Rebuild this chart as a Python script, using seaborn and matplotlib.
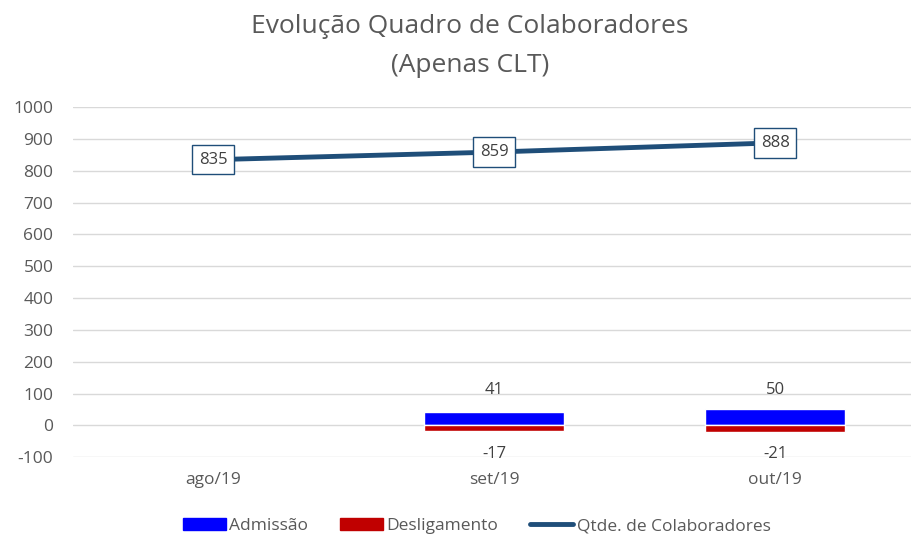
import numpy as np
import pandas as pd
import matplotlib
matplotlib.use('Agg')
import matplotlib.pyplot as plt
import seaborn as sns
from matplotlib.patches import Patch
from matplotlib.lines import Line2D

meses = ['ago/19', 'set/19', 'out/19']
admissao = [np.nan, 41, 50]
desligamento = [np.nan, -17, -21]
qtde = [835, 859, 888]

cor_adm = '#0000FF'
cor_des = '#C00000'
cor_qtd = '#1F4E79'
cinza = '#595959'

sns.set_style('white')
plt.rcParams['font.family'] = ['Open Sans', 'DejaVu Sans']
plt.rcParams['axes.unicode_minus'] = False

fig = plt.figure(figsize=(9.11, 5.36), dpi=100)
ax = fig.add_axes([0.080, 0.147, 0.925, 0.653])

df = pd.DataFrame({'mes': meses, 'adm': admissao, 'des': desligamento, 'qtd': qtde})

sns.barplot(data=df, x='mes', y='adm', color=cor_adm, width=0.5, saturation=1, ax=ax)
sns.barplot(data=df, x='mes', y='des', color=cor_des, width=0.5, saturation=1, ax=ax)
sns.pointplot(data=df, x='mes', y='qtd', color=cor_qtd, markers='', linewidth=3.5, ax=ax)

for i in range(len(meses)):
    ax.text(i, qtde[i], str(qtde[i]), ha='center', va='center', fontsize=12, color='#404040',
            bbox=dict(boxstyle='square,pad=0.4', fc='white', ec=cor_qtd, lw=1))
    if not np.isnan(admissao[i]):
        ax.text(i, 110, str(int(admissao[i])), ha='center', va='center', fontsize=12, color='#404040')
    if not np.isnan(desligamento[i]):
        ax.text(i, -90, str(int(desligamento[i])), ha='center', va='center', fontsize=12, color='#404040')

ax.set_ylim(-100, 1000)
ax.set_yticks(range(-100, 1001, 100))
ax.set_xlim(-0.5, 2.5)
ax.grid(axis='y', color='#D9D9D9', lw=1)
ax.set_axisbelow(True)
sns.despine(ax=ax, left=True, bottom=True)
ax.tick_params(axis='both', length=0, labelsize=12.5, labelcolor=cinza)
ax.tick_params(axis='y', pad=14)
ax.tick_params(axis='x', pad=11)
ax.set_xlabel('')
ax.set_ylabel('')

fig.text(0.516, 0.950, 'Evolução Quadro de Colaboradores', ha='center', va='center', fontsize=19, color=cinza)
fig.text(0.516, 0.877, '(Apenas CLT)', ha='center', va='center', fontsize=19, color=cinza)

handles = [Patch(color=cor_adm), Patch(color=cor_des), Line2D([0], [0], color=cor_qtd, lw=3.5)]
fig.legend(handles, ['Admissão', 'Desligamento', 'Qtde. de Colaboradores'], loc='center',
           bbox_to_anchor=(0.523, 0.018), ncol=3, frameon=False, fontsize=12.5,
           labelcolor=cinza, handlelength=2.5, handleheight=0.7, handletextpad=0.2, columnspacing=1.8)

fig.savefig('out.png', dpi=100)
